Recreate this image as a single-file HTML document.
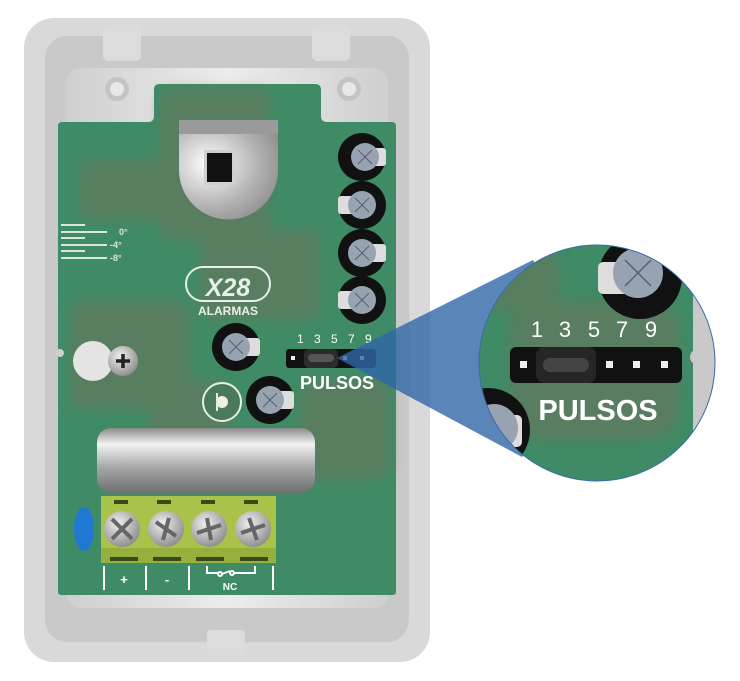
<!DOCTYPE html>
<html><head><meta charset="utf-8"><style>html,body{margin:0;padding:0;background:#fff}svg{display:block}text{font-family:"Liberation Sans",sans-serif}</style></head>
<body>
<svg width="740" height="681" viewBox="0 0 740 681" xmlns="http://www.w3.org/2000/svg">
<defs>
<linearGradient id="cyl" x1="0" y1="0" x2="0" y2="1"><stop offset="0" stop-color="#8a8a8a"/><stop offset="0.25" stop-color="#f2f2f2"/><stop offset="0.6" stop-color="#a8a8a8"/><stop offset="1" stop-color="#6e6e6e"/></linearGradient>
<radialGradient id="dome" cx="0.3" cy="0.35" r="0.8"><stop offset="0" stop-color="#ffffff"/><stop offset="0.6" stop-color="#b5b5b5"/><stop offset="1" stop-color="#8c8c8c"/></radialGradient>
<radialGradient id="scr" cx="0.4" cy="0.35" r="0.7"><stop offset="0" stop-color="#f0f0f0"/><stop offset="1" stop-color="#8a8a8a"/></radialGradient>
<linearGradient id="top" x1="0" y1="0" x2="1" y2="0"><stop offset="0" stop-color="#cfcfcf"/><stop offset="0.5" stop-color="#ececec"/><stop offset="1" stop-color="#cfcfcf"/></linearGradient>
<clipPath id="mag"><circle cx="597" cy="363" r="118"/></clipPath>
<filter id="blur"><feGaussianBlur stdDeviation="6"/></filter>
</defs>
<rect x="24" y="18" width="406" height="644" rx="30" fill="#d9d9d9"/>
<rect x="45" y="36" width="364" height="606" rx="22" fill="#c9c9c9"/>
<rect x="103" y="25" width="38" height="36" rx="5" fill="#dcdcdc"/>
<rect x="312" y="25" width="38" height="36" rx="5" fill="#dcdcdc"/>
<rect x="207" y="630" width="38" height="25" rx="4" fill="#dcdcdc"/>
<rect x="66" y="68" width="322" height="540" rx="14" fill="url(#top)"/>
<circle cx="117" cy="89" r="12" fill="#c4c4c4"/><circle cx="117" cy="89" r="7" fill="#e8e8e8"/>
<circle cx="349" cy="89" r="12" fill="#c4c4c4"/><circle cx="349" cy="89" r="7" fill="#e8e8e8"/>
<path d="M62 122 L148 122 Q154 122 154 116 L154 89 Q154 84 160 84 L315 84 Q321 84 321 90 L321 116 Q321 122 327 122 L392 122 Q396 122 396 126 L396 592 Q396 595 392 595 L62 595 Q58 595 58 592 L58 126 Q58 122 62 122 Z" fill="#3f8b66"/>
<g fill="#5e7a5e" opacity="0.8" filter="url(#blur)">
<rect x="160" y="90" width="110" height="150" rx="10"/>
<rect x="80" y="160" width="90" height="60" rx="10"/>
<rect x="200" y="230" width="120" height="90" rx="12"/>
<rect x="70" y="300" width="120" height="110" rx="15"/>
<rect x="150" y="380" width="80" height="60" rx="10"/>
<rect x="300" y="380" width="90" height="100" rx="12"/>
</g>
<g fill="#d8e6dc"><rect x="61" y="224" width="24" height="2"/><rect x="61" y="231" width="46" height="2"/><rect x="61" y="237" width="24" height="2"/><rect x="61" y="244" width="46" height="2"/><rect x="61" y="250" width="24" height="2"/><rect x="61" y="257" width="46" height="2"/></g>
<g fill="#d8e6dc" font-size="9" font-weight="bold"><text x="119" y="235">0°</text><text x="110" y="248">-4°</text><text x="110" y="261">-8°</text></g>
<rect x="179" y="120" width="99" height="14" fill="#9a9a9a"/>
<path d="M179 134 L278 134 L278 170 A49.5 49.5 0 0 1 179 170 Z" fill="url(#dome)"/>
<rect x="204" y="150" width="31" height="35" fill="#cfcfcf"/><rect x="207" y="153" width="25" height="29" fill="#111"/>
<rect x="186" y="267" width="84" height="34" rx="17" fill="none" stroke="#e8f0ea" stroke-width="2"/>
<text x="228" y="296" text-anchor="middle" font-size="25" font-weight="bold" font-style="italic" fill="#e8f0ea">X28</text>
<text x="228" y="315" text-anchor="middle" font-size="12" font-weight="bold" fill="#e8f0ea">ALARMAS</text>
<circle cx="93" cy="361" r="20" fill="#e4e4e4"/>
<circle cx="123" cy="361" r="15" fill="url(#scr)"/>
<path d="M116 361 H130 M123 354 V368" stroke="#222" stroke-width="3.5"/>
<circle cx="60" cy="353" r="4" fill="#d0d0d0"/>
<circle cx="362" cy="157" r="24" fill="#111"/><rect x="362" y="148" width="24" height="18" rx="3" fill="#ddd"/><circle cx="365" cy="157" r="14" fill="#98a3b1"/><path d="M358 150 L372 164 M372 150 L358 164" stroke="#555f6d"/>
<circle cx="362" cy="205" r="24" fill="#111"/><rect x="338" y="196" width="24" height="18" rx="3" fill="#ddd"/><circle cx="362" cy="205" r="14" fill="#98a3b1"/><path d="M355 198 L369 212 M369 198 L355 212" stroke="#555f6d"/>
<circle cx="362" cy="253" r="24" fill="#111"/><rect x="362" y="244" width="24" height="18" rx="3" fill="#ddd"/><circle cx="362" cy="253" r="14" fill="#98a3b1"/><path d="M355 246 L369 260 M369 246 L355 260" stroke="#555f6d"/>
<circle cx="362" cy="300" r="24" fill="#111"/><rect x="338" y="291" width="24" height="18" rx="3" fill="#ddd"/><circle cx="362" cy="300" r="14" fill="#98a3b1"/><path d="M355 293 L369 307 M369 293 L355 307" stroke="#555f6d"/>
<circle cx="236" cy="347" r="24" fill="#111"/><rect x="236" y="338" width="24" height="18" rx="3" fill="#ddd"/><circle cx="236" cy="347" r="14" fill="#98a3b1"/><path d="M229 340 L243 354 M243 340 L229 354" stroke="#555f6d"/>
<circle cx="270" cy="400" r="24" fill="#111"/><rect x="270" y="391" width="24" height="18" rx="3" fill="#ddd"/><circle cx="270" cy="400" r="14" fill="#98a3b1"/><path d="M263 393 L277 407 M277 393 L263 407" stroke="#555f6d"/>
<circle cx="222" cy="402" r="19" fill="#4a7a5a" stroke="#e6efe6" stroke-width="2"/>
<circle cx="222" cy="402" r="6" fill="#f0f0e0"/><rect x="216" y="393" width="2" height="18" fill="#e6efe6"/>
<g fill="#fff" font-size="12"><text x="297" y="343">1</text><text x="314" y="343">3</text><text x="331" y="343">5</text><text x="348" y="343">7</text><text x="365" y="343">9</text></g>
<rect x="286" y="349" width="90" height="19" rx="3" fill="#111"/>
<rect x="304" y="349" width="34" height="19" rx="5" fill="#2c2c2c"/><rect x="308" y="354" width="26" height="8" rx="4" fill="#555"/>
<g fill="#eee"><rect x="291" y="356" width="4" height="4"/><rect x="343" y="356" width="4" height="4"/><rect x="360" y="356" width="4" height="4"/></g>
<text x="337" y="389" text-anchor="middle" font-size="18" font-weight="bold" fill="#fff">PULSOS</text>
<rect x="97" y="428" width="218" height="65" rx="14" fill="url(#cyl)"/>
<ellipse cx="84" cy="529" rx="10" ry="22" fill="#1f78d1"/>
<rect x="101" y="496" width="175" height="67" fill="#a8c24a"/>
<rect x="101" y="548" width="175" height="15" fill="#96b03e"/>
<g fill="#3a4a1a"><rect x="114" y="500" width="14" height="4"/><rect x="157" y="500" width="14" height="4"/><rect x="201" y="500" width="14" height="4"/><rect x="244" y="500" width="14" height="4"/>
<rect x="110" y="557" width="28" height="4"/><rect x="153" y="557" width="28" height="4"/><rect x="196" y="557" width="28" height="4"/><rect x="240" y="557" width="28" height="4"/></g>
<g stroke="#666" stroke-width="4">
<circle cx="122" cy="529" r="18" fill="url(#scr)" stroke="none"/><path d="M112 519 L132 539 M132 519 L112 539"/>
<circle cx="166" cy="529" r="18" fill="url(#scr)" stroke="none"/><path d="M156 522 L176 536 M169 518 L163 540"/>
<circle cx="209" cy="529" r="18" fill="url(#scr)" stroke="none"/><path d="M197 533 L221 525 M207 518 L211 540"/>
<circle cx="253" cy="529" r="18" fill="url(#scr)" stroke="none"/><path d="M241 533 L265 525 M249 518 L257 540"/>
</g>
<g stroke="#fff" stroke-width="2" fill="none"><path d="M104 566 V590 M146 566 V590 M189 566 V590 M273 566 V590"/><path d="M207 566 V573 H219 M230 571 L222 574 M234 573 H255 V566"/><circle cx="220" cy="574" r="2"/><circle cx="232" cy="573" r="2"/></g>
<g fill="#fff" font-weight="bold"><text x="124" y="584" text-anchor="middle" font-size="13">+</text><text x="167" y="584" text-anchor="middle" font-size="13">-</text><text x="230" y="590" text-anchor="middle" font-size="10">NC</text></g>
<polygon points="337,358 533,260 597,363 522,457" fill="#2f66a8" opacity="0.8"/>
<g clip-path="url(#mag)">
<rect x="470" y="240" width="260" height="250" fill="#3f8b66"/>
<g fill="#5e7a5e" opacity="0.8" filter="url(#blur)"><rect x="510" y="300" width="170" height="140" rx="30"/><rect x="480" y="250" width="80" height="60" rx="20"/></g>
<rect x="693" y="240" width="40" height="250" fill="#c9c9c9"/>
<circle cx="698" cy="357" r="8" fill="#c9c9c9"/>
<circle cx="640" cy="277" r="42" fill="#111"/><rect x="598" y="262" width="40" height="32" rx="5" fill="#ddd"/><circle cx="638" cy="273" r="25" fill="#98a3b1"/><path d="M625 260 L651 286 M651 260 L625 286" stroke="#555f6d" stroke-width="1.5"/>
<circle cx="488" cy="430" r="42" fill="#111"/><rect x="490" y="415" width="32" height="32" rx="5" fill="#ddd"/><circle cx="494" cy="428" r="24" fill="#98a3b1"/>
<g fill="#fff" font-size="22"><text x="537" y="337" text-anchor="middle">1</text><text x="565" y="337" text-anchor="middle">3</text><text x="594" y="337" text-anchor="middle">5</text><text x="622" y="337" text-anchor="middle">7</text><text x="651" y="337" text-anchor="middle">9</text></g>
<rect x="510" y="347" width="172" height="36" rx="6" fill="#111"/>
<rect x="536" y="347" width="60" height="36" rx="8" fill="#262626"/><rect x="543" y="358" width="46" height="14" rx="7" fill="#444"/>
<g fill="#eee"><rect x="520" y="361" width="7" height="7"/><rect x="606" y="361" width="7" height="7"/><rect x="633" y="361" width="7" height="7"/><rect x="661" y="361" width="7" height="7"/></g>
<text x="598" y="420" text-anchor="middle" font-size="29" font-weight="bold" fill="#fff">PULSOS</text>
</g>
<circle cx="597" cy="363" r="118" fill="none" stroke="#3a6aa8" stroke-width="1"/>
</svg>
</body></html>
